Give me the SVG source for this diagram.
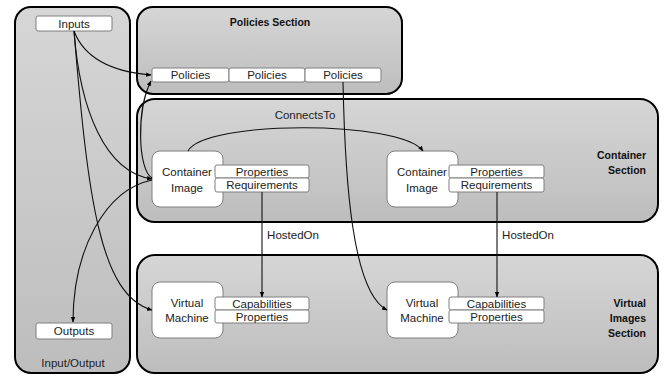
<svg xmlns="http://www.w3.org/2000/svg" width="665" height="376" viewBox="0 0 665 376">
<defs>
<linearGradient id="g" x1="0" y1="0" x2="0" y2="1">
<stop offset="0" stop-color="#d6d6d6"/>
<stop offset="1" stop-color="#bdbdbd"/>
</linearGradient>
<marker id="a" viewBox="0 0 10 10" refX="9" refY="5" markerWidth="5" markerHeight="5" orient="auto">
<path d="M0,1 L10,5 L0,9 z" fill="#000"/>
</marker>
<style>
.sec{fill:url(#g);stroke:#000;stroke-width:2}
.box{fill:#fff;stroke:#7f7f7f;stroke-width:1}
.t{font-family:"Liberation Sans",Arial,sans-serif;font-size:11.5px;fill:#222;text-anchor:middle}
.b{font-family:"Liberation Sans",Arial,sans-serif;font-size:10.5px;font-weight:bold;fill:#111}
.c{fill:none;stroke:#111;stroke-width:1.1;marker-end:url(#a)}
</style>
</defs>
<rect width="665" height="376" fill="#fff"/>
<g id="io-section">
<rect class="sec" x="15" y="7" width="115" height="366" rx="16"/>
<text class="t" x="73" y="367">Input/Output</text>
</g>
<g id="policies-section">
<rect class="sec" x="137" y="7" width="265" height="87" rx="16"/>
<text class="b" x="270" y="26" text-anchor="middle">Policies Section</text>
</g>
<g id="container-section">
<rect class="sec" x="137" y="99" width="521" height="123" rx="18"/>
<text class="b" x="646" y="159" text-anchor="end">Container</text>
<text class="b" x="646" y="174" text-anchor="end">Section</text>
</g>
<g id="vi-section">
<rect class="sec" x="137" y="255" width="521" height="118" rx="18"/>
<text class="b" x="646" y="307" text-anchor="end">Virtual</text>
<text class="b" x="646" y="322" text-anchor="end">Images</text>
<text class="b" x="646" y="337" text-anchor="end">Section</text>
</g>
<g id="inputs">
<rect class="box" x="36" y="16" width="76" height="15" rx="2"/>
<text class="t" x="74" y="27.5">Inputs</text>
</g>
<g id="outputs">
<rect class="box" x="36" y="323" width="76" height="16" rx="2"/>
<text class="t" x="74" y="335">Outputs</text>
</g>
<g id="policies1">
<rect class="box" x="152" y="68" width="77" height="14" rx="2"/>
<text class="t" x="190.5" y="79">Policies</text>
</g>
<g id="policies2">
<rect class="box" x="229" y="68" width="76" height="14" rx="2"/>
<text class="t" x="267" y="79">Policies</text>
</g>
<g id="policies3">
<rect class="box" x="305" y="68" width="76" height="14" rx="2"/>
<text class="t" x="343" y="79">Policies</text>
</g>
<g id="container1">
<rect class="box" x="152" y="151" width="71" height="56" rx="8"/>
<text class="t" x="187" y="176">Container</text>
<text class="t" x="187" y="192">Image</text>
<rect class="box" x="215" y="165" width="94" height="13" rx="2"/>
<text class="t" x="262" y="175.5">Properties</text>
<rect class="box" x="215" y="178" width="94" height="14" rx="2"/>
<text class="t" x="262" y="189">Requirements</text>
</g>
<g id="container2">
<rect class="box" x="387" y="151" width="71" height="56" rx="8"/>
<text class="t" x="422" y="176">Container</text>
<text class="t" x="422" y="192">Image</text>
<rect class="box" x="449" y="165" width="95" height="13" rx="2"/>
<text class="t" x="496.5" y="175.5">Properties</text>
<rect class="box" x="449" y="178" width="95" height="14" rx="2"/>
<text class="t" x="496.5" y="189">Requirements</text>
</g>
<g id="vm1">
<rect class="box" x="152" y="282" width="71" height="56" rx="8"/>
<text class="t" x="187" y="307">Virtual</text>
<text class="t" x="187" y="322">Machine</text>
<rect class="box" x="215" y="297" width="94" height="13" rx="2"/>
<text class="t" x="262" y="307.5">Capabilities</text>
<rect class="box" x="215" y="310" width="94" height="13" rx="2"/>
<text class="t" x="262" y="320.5">Properties</text>
</g>
<g id="vm2">
<rect class="box" x="387" y="282" width="71" height="56" rx="8"/>
<text class="t" x="422" y="307">Virtual</text>
<text class="t" x="422" y="322">Machine</text>
<rect class="box" x="449" y="297" width="95" height="13" rx="2"/>
<text class="t" x="496.5" y="307.5">Capabilities</text>
<rect class="box" x="449" y="310" width="95" height="13" rx="2"/>
<text class="t" x="496.5" y="320.5">Properties</text>
</g>
<g id="connectors">
<path class="c" d="M74,31 C85,60 115,72 151,75"/>
<path class="c" d="M74,31 C80,110 105,172 152,179"/>
<path class="c" d="M74,31 C88,200 100,295 152,310"/>
<path class="c" d="M152,180 C105,190 73,250 73,322"/>
<path class="c" d="M152,178 C138,170 136,110 151,81"/>
<path class="c" d="M343,82 C345,180 352,292 387,310"/>
<path class="c" d="M188,151 C205,120 400,120 423,151"/>
<path class="c" d="M262,192 L262,297"/>
<path class="c" d="M497,192 L497,297"/>
<text class="t" x="305" y="119">ConnectsTo</text>
<text class="t" x="293" y="239">HostedOn</text>
<text class="t" x="528" y="239">HostedOn</text>
</g>
</svg>
